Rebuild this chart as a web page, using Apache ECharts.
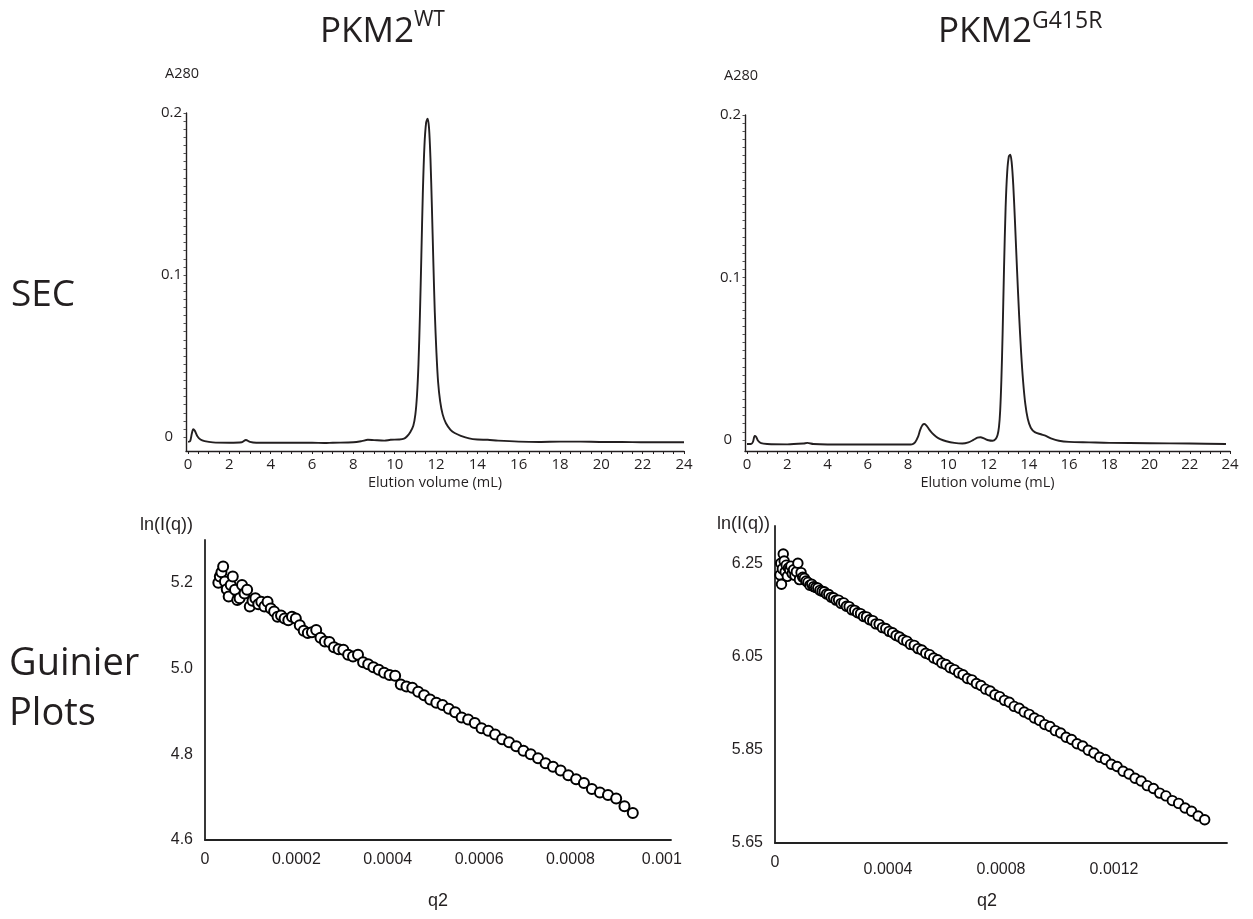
<!DOCTYPE html>
<html><head><meta charset="utf-8">
<script src="https://cdn.jsdelivr.net/npm/echarts@6/dist/echarts.min.js"></script>
<style>html,body{margin:0;padding:0;background:#fff}#c{width:1253px;height:919px}</style>
</head><body><div id="c"></div>
<script>
// ---------- tick labels ----------
const secXLabels = [0,2,4,6,8,10,12,14,16,18,20,22,24];
const secYLabels = [0,0.1,0.2];
const wtGuinierXLabels = [0,0.0002,0.0004,0.0006,0.0008,0.001];
const wtGuinierYLabels = [4.6,4.8,5.0,5.2];
const grGuinierXLabels = [0,0.0004,0.0008,0.0012];
const grGuinierYLabels = [5.65,5.85,6.05,6.25];

// ---------- SEC, PKM2 WT ----------
const wtSecVolume = [0,0.1,0.18,0.25,0.32,0.45,0.6,0.8,1.2,2.0,2.6,2.8,3.0,3.3,4,5,6,6.6,7,8,8.4,8.7,9.0,9.5,9.8,10.2,10.45,10.6,10.75,10.9,11.0,11.08,11.15,11.22,11.29,11.36,11.44,11.52,11.59,11.66,11.73,11.8,11.87,11.94,12.02,12.1,12.2,12.32,12.48,12.7,12.9,13.2,13.6,14.0,14.5,15,16,17,18,19,20,21,22,24];
const wtSecA280 = [-0.003,-0.0025,0.002,0.0048,0.004,0.0005,-0.0015,-0.0025,-0.0033,-0.0035,-0.0032,-0.0018,-0.003,-0.0035,-0.0035,-0.0035,-0.0035,-0.0037,-0.0035,-0.0032,-0.0025,-0.0017,-0.0019,-0.0022,-0.0017,-0.0015,-0.001,0.0005,0.003,0.007,0.014,0.026,0.045,0.075,0.112,0.150,0.180,0.194,0.1965,0.191,0.172,0.142,0.108,0.077,0.052,0.034,0.022,0.014,0.0085,0.0045,0.0025,0.0008,-0.0008,-0.0015,-0.0017,-0.0022,-0.0028,-0.003,-0.0028,-0.0028,-0.003,-0.003,-0.0032,-0.0032];

// ---------- SEC, PKM2 G415R ----------
const grSecVolume = [0,0.2,0.3,0.38,0.45,0.55,0.7,1.0,2.0,2.8,3.0,3.3,4,5,6,7,8,8.2,8.35,8.5,8.6,8.72,8.82,8.92,9.05,9.2,9.4,9.6,9.9,10.3,10.7,11.0,11.25,11.45,11.6,11.8,12.0,12.2,12.35,12.45,12.52,12.58,12.64,12.7,12.77,12.85,12.93,13.01,13.08,13.15,13.23,13.32,13.42,13.52,13.62,13.72,13.83,13.95,14.1,14.3,14.6,14.85,15.1,15.5,16,17,18,20,22,23.8];
const grSecA280 = [-0.0025,-0.0025,-0.001,0.0025,0.002,-0.0005,-0.002,-0.0025,-0.0027,-0.0022,-0.0018,-0.0025,-0.0028,-0.0028,-0.0028,-0.0028,-0.0028,-0.0027,-0.0015,0.002,0.006,0.0092,0.0098,0.0088,0.0065,0.0042,0.002,0.0005,-0.0008,-0.0018,-0.0022,-0.0015,0.0,0.0014,0.0017,0.0008,-0.0002,-0.0005,0.0005,0.003,0.008,0.018,0.037,0.065,0.105,0.143,0.165,0.1745,0.1755,0.171,0.157,0.133,0.104,0.077,0.054,0.036,0.022,0.013,0.0075,0.0048,0.0035,0.0025,0.001,-0.0005,-0.0012,-0.0015,-0.0018,-0.002,-0.0022,-0.0025];

// ---------- Guinier, PKM2 WT ----------
const wtQ2 = [29.2e-6,32.5e-6,36.0e-6,39.7e-6,43.6e-6,47.6e-6,51.8e-6,56.3e-6,60.8e-6,65.6e-6,70.6e-6,75.7e-6,81.0e-6,86.5e-6,92.2e-6,98.0e-6,104.0e-6,110.3e-6,116.6e-6,123.2e-6,130.0e-6,136.9e-6,144.0e-6,151.3e-6,158.8e-6,166.4e-6,174.2e-6,182.3e-6,190.4e-6,198.8e-6,207.4e-6,216.1e-6,225.0e-6,234.1e-6,243.4e-6,252.8e-6,262.4e-6,272.3e-6,282.2e-6,292.4e-6,302.8e-6,313.3e-6,324.0e-6,334.9e-6,346.0e-6,357.2e-6,368.6e-6,380.3e-6,392.0e-6,404.0e-6,416.2e-6,428.5e-6,441.0e-6,453.7e-6,466.6e-6,479.6e-6,492.8e-6,506.3e-6,519.8e-6,533.6e-6,547.6e-6,561.7e-6,576.0e-6,590.5e-6,605.2e-6,620.0e-6,635.0e-6,650.3e-6,665.6e-6,681.2e-6,697.0e-6,712.9e-6,729.0e-6,745.3e-6,761.8e-6,778.4e-6,795.2e-6,812.3e-6,829.4e-6,846.8e-6,864.4e-6,882.1e-6,900.0e-6,918.1e-6,936.4e-6];
const wtLnI = [5.200,5.215,5.225,5.238,5.203,5.185,5.168,5.195,5.215,5.184,5.160,5.164,5.195,5.175,5.184,5.145,5.158,5.164,5.150,5.156,
5.145,5.156,5.140,5.133,5.121,5.124,5.117,5.113,5.121,5.117,
5.101,5.088,5.083,5.085,5.090,5.072,5.063,5.062,5.050,5.045,5.044,5.032,5.028,5.032,5.015,5.010,5.003,4.997,4.990,4.985,4.983,4.963,4.958,4.955,4.946,4.938,4.928,4.920,4.915,4.906,4.898,4.886,4.881,4.873,4.861,4.855,4.846,4.835,4.828,4.819,4.808,4.800,4.791,4.779,4.771,4.762,4.751,4.742,4.733,4.719,4.711,4.705,4.697,4.679,4.663];

// ---------- Guinier, PKM2 G415R ----------
const grQ2 = [17.6e-6,20.3e-6,23.0e-6,26.0e-6,29.2e-6,32.5e-6,36.0e-6,39.7e-6,43.6e-6,47.6e-6,51.8e-6,56.3e-6,60.8e-6,65.6e-6,70.6e-6,75.7e-6,81.0e-6,86.5e-6,92.2e-6,98.0e-6,104.0e-6,110.3e-6,116.6e-6,123.2e-6,130.0e-6,136.9e-6,144.0e-6,151.3e-6,158.8e-6,166.4e-6,174.2e-6,182.3e-6,190.4e-6,198.8e-6,207.4e-6,216.1e-6,225.0e-6,234.1e-6,243.4e-6,252.8e-6,262.4e-6,272.3e-6,282.2e-6,292.4e-6,302.8e-6,313.3e-6,324.0e-6,334.9e-6,346.0e-6,357.2e-6,368.6e-6,380.3e-6,392.0e-6,404.0e-6,416.2e-6,428.5e-6,441.0e-6,453.7e-6,466.6e-6,479.6e-6,492.8e-6,506.3e-6,519.8e-6,533.6e-6,547.6e-6,561.7e-6,576.0e-6,590.5e-6,605.2e-6,620.0e-6,635.0e-6,650.3e-6,665.6e-6,681.2e-6,697.0e-6,712.9e-6,729.0e-6,745.3e-6,761.8e-6,778.4e-6,795.2e-6,812.3e-6,829.4e-6,846.8e-6,864.4e-6,882.1e-6,900.0e-6,918.1e-6,936.4e-6,954.8e-6,973.4e-6,992.3e-6,1011.2e-6,1030.4e-6,1049.8e-6,1069.3e-6,1089.0e-6,1108.9e-6,1129.0e-6,1149.2e-6,1169.6e-6,1190.3e-6,1211.0e-6,1232.0e-6,1253.2e-6,1274.5e-6,1296.0e-6,1317.7e-6,1339.6e-6,1361.6e-6,1383.8e-6,1406.3e-6,1428.8e-6,1451.6e-6,1474.6e-6,1497.7e-6,1521.0e-6];
const grLnI = [6.225,6.250,6.205,6.238,6.270,6.255,6.232,6.246,6.222,6.240,6.236,6.244,6.228,6.236,6.224,6.232,6.250,6.215,6.230,6.220,6.218,
6.212,6.209,6.203,6.205,6.200,6.198,6.197,6.192,6.190,6.189,
6.184,6.183,6.177,6.176,6.171,6.171,6.164,6.165,6.158,6.157,
6.150,6.149,6.144,6.142,6.136,6.135,6.129,6.127,6.120,6.119,
6.112,6.110,6.104,6.101,6.095,6.092,6.086,6.083,6.076,6.074,
6.067,6.064,6.057,6.054,6.047,6.043,6.036,6.033,6.026,6.022,
6.015,6.011,6.003,6.000,5.992,5.988,5.980,5.976,5.968,5.964,
5.956,5.952,5.943,5.939,5.931,5.926,5.918,5.913,5.904,5.900,
5.891,5.886,5.877,5.872,5.863,5.858,5.849,5.843,5.834,5.829,
5.819,5.814,5.804,5.798,5.789,5.783,5.773,5.767,5.757,5.751,
5.741,5.735,5.725,5.718,5.708,5.700];

// ---------- build ----------
const zip = (a, b) => a.slice(0, Math.min(a.length, b.length)).map((v, i) => [v, b[i]]);
const steps = (from, to, step) => { const r = []; for (let v = from; v <= to + 1e-12; v += step) r.push(+v.toFixed(6)); return r; };

const INK = '#231f20';
const SANS = "'Open Sans', 'Noto Sans', sans-serif";
const ARIAL = "'Liberation Sans', Arial, sans-serif";

function secX(grid) {
  return {
    type: 'value', gridIndex: grid, min: -0.1, max: 24,
    name: 'Elution volume (mL)', nameLocation: 'middle', nameGap: 24,
    nameTextStyle: { color: INK, fontFamily: SANS, fontSize: 14.5 },
    axisLine: { onZero: false, lineStyle: { color: INK, width: 1.4 } },
    axisTick: { show: true, customValues: steps(0, 24, 0.5), length: 3, lineStyle: { color: INK, width: 1 } },
    axisLabel: { customValues: secXLabels, color: INK, fontFamily: SANS, fontSize: 15, margin: 6 },
    splitLine: { show: false }
  };
}
function secY(grid, min) {
  return {
    type: 'value', gridIndex: grid, min: min, max: 0.2,
    name: 'A280', nameLocation: 'end', nameGap: 32,
    nameTextStyle: { color: INK, fontFamily: SANS, fontSize: 14.5, padding: [0, 8, 0, 0] },
    axisLine: { show: true, onZero: false, lineStyle: { color: INK, width: 1.4 } },
    axisTick: { show: true, customValues: steps(0, 0.2, 0.005), length: 2.5, lineStyle: { color: '#555', width: 1 } },
    axisLabel: {
      customValues: secYLabels, color: INK, fontFamily: SANS, fontSize: 15, margin: 4,
      formatter: v => (v === 0 ? '{z|0}' : v.toFixed(1)),
      rich: { z: { color: INK, fontFamily: SANS, fontSize: 15, padding: [0, 9, 0, 0] } }
    },
    splitLine: { show: false }
  };
}
function gX(grid, max, labels, namePad, nameGap, dropNonZero) {
  return {
    type: 'value', gridIndex: grid, min: 0, max: max,
    name: 'q2', nameLocation: 'middle', nameGap: nameGap,
    nameTextStyle: { color: INK, fontFamily: ARIAL, fontSize: 18, padding: [0, namePad, 0, 0] },
    axisLine: { onZero: false, lineStyle: { color: '#222', width: 1.8 } },
    axisTick: { show: false },
    axisLabel: { customValues: labels, color: INK, fontFamily: ARIAL, fontSize: 16, margin: 12,
      formatter: v => (v === 0 ? '{z|0}' : '{d|' + String(+v.toFixed(5)) + '}'),
      rich: {
        z: { color: INK, fontFamily: ARIAL, fontSize: 16 },
        d: { color: INK, fontFamily: ARIAL, fontSize: 16, padding: [dropNonZero, 0, 0, 0] }
      } },
    splitLine: { show: false }
  };
}
function gY(grid, min, max, labels, digits, padRight, nameGap) {
  return {
    type: 'value', gridIndex: grid, min: min, max: max,
    name: 'ln(I(q))', nameLocation: 'end', nameGap: nameGap,
    nameTextStyle: { color: INK, fontFamily: ARIAL, fontSize: 18, align: 'right', padding: [0, padRight, 0, 0] },
    axisLine: { show: true, onZero: false, lineStyle: { color: '#222', width: 1.8 } },
    axisTick: { show: false },
    axisLabel: { customValues: labels, color: INK, fontFamily: ARIAL, fontSize: 16, margin: 12,
      formatter: v => v.toFixed(digits) },
    splitLine: { show: false }
  };
}

const circleWT = { color: '#ffffff', borderColor: '#000', borderWidth: 2, opacity: 1 };
const circleGR = { color: '#ffffff', borderColor: '#000', borderWidth: 1.9, opacity: 1 };

const option = {
  backgroundColor: '#fff',
  animation: false,
  grid: [
    { left: 186, top: 113, width: 498, height: 338, outerBoundsMode: 'none' },
    { left: 745, top: 115, width: 485, height: 336, outerBoundsMode: 'none' },
    { left: 205, top: 540, width: 466, height: 300, outerBoundsMode: 'none' },
    { left: 775, top: 526, width: 452, height: 317, outerBoundsMode: 'none' }
  ],
  xAxis: [ secX(0), secX(1), gX(2, 0.00102, wtGuinierXLabels, 0, 52, 0), gX(3, 0.0016, grGuinierXLabels, 28, 49, 7) ],
  yAxis: [ secY(0, -0.0086), secY(1, -0.0068),
           gY(2, 4.6, 5.3, wtGuinierYLabels, 1, 12, 6), gY(3, 5.65, 6.33, grGuinierYLabels, 2, 5, -7) ],
  series: [
    { type: 'line', xAxisIndex: 0, yAxisIndex: 0, data: zip(wtSecVolume, wtSecA280), showSymbol: false, smooth: 0.3,
      lineStyle: { color: INK, width: 1.9 } },
    { type: 'line', xAxisIndex: 1, yAxisIndex: 1, data: zip(grSecVolume, grSecA280), showSymbol: false, smooth: 0.3,
      lineStyle: { color: INK, width: 1.9 } },
    { type: 'scatter', xAxisIndex: 2, yAxisIndex: 2, data: zip(wtQ2, wtLnI), symbol: 'circle', symbolSize: 10, itemStyle: circleWT },
    { type: 'scatter', xAxisIndex: 3, yAxisIndex: 3, data: zip(grQ2, grLnI), symbol: 'circle', symbolSize: 9.5, itemStyle: circleGR }
  ],
  graphic: [
    { type: 'text', left: 320, top: 10, style: { text: '{a|PKM2}{b|WT}', fill: INK,
        rich: { a: { fontFamily: SANS, fontSize: 35, lineHeight: 44, fill: INK },
                b: { fontFamily: SANS, fontSize: 21, lineHeight: 30, verticalAlign: 'top', fill: INK } } } },
    { type: 'text', left: 938, top: 10, style: { text: '{a|PKM2}{b|G415R}', fill: INK,
        rich: { a: { fontFamily: SANS, fontSize: 35, lineHeight: 44, fill: INK },
                b: { fontFamily: SANS, fontSize: 23, lineHeight: 30, verticalAlign: 'top', fill: INK } } } },
    { type: 'text', left: 11, top: 277, style: { text: 'SEC', fill: INK, fontFamily: SANS, fontSize: 37 } },
    { type: 'text', left: 9, top: 645, style: { text: 'Guinier', fill: INK, fontFamily: SANS, fontSize: 38 } },
    { type: 'text', left: 9, top: 695, style: { text: 'Plots', fill: INK, fontFamily: SANS, fontSize: 38 } }
  ]
};

const chart = echarts.init(document.getElementById('c'), null, { renderer: 'canvas' });
chart.setOption(option);
</script>
</body></html>
